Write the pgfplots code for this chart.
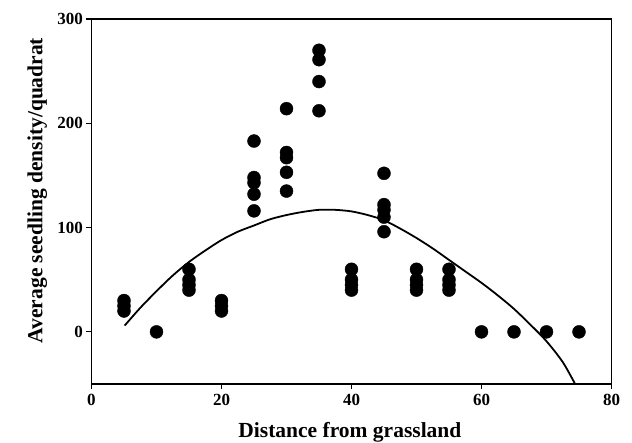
\documentclass[border=0pt]{standalone}
\usepackage{pgfplots}
\pgfplotsset{compat=1.18}
\usepackage{fontspec}
\setmainfont{Liberation Serif}
\begin{document}
\begin{tikzpicture}[x=1bp,y=1bp]
\useasboundingbox (-91.5bp,-59bp) rectangle (540.5bp,384bp);
\begin{axis}[
  at={(0,0)}, anchor=south west,
  scale only axis,
  width=520bp, height=365bp,
  xmin=0, xmax=80, ymin=-50, ymax=300,
  xtick={0,20,40,60,80}, ytick={0,100,200,300},
  axis line style={line width=1.8bp},
  tick style={line width=1.2bp, black},
  tick align=outside,
  major tick length=5bp,
  xtick pos=bottom, ytick pos=left,
  /pgf/number format/assume math mode=true,
  tick label style={font=\fontsize{17bp}{19bp}\selectfont\bfseries},
  xticklabel style={yshift=-2bp},
  xlabel={Distance from grassland},
  ylabel={Average seedling density/quadrat},
  every axis x label/.style={at={(axis description cs:0.497,0)}, anchor=base, yshift=-53bp, font=\fontsize{21.5bp}{24bp}\selectfont\bfseries},
  every axis y label/.style={at={(axis description cs:0,0.53)}, rotate=90, anchor=base, yshift=49bp, font=\fontsize{21.5bp}{24bp}\selectfont\bfseries},
  clip=false,
]
\addplot[only marks, mark=*, mark size=6.5bp, black] coordinates {
 (5,30) (5,25) (5,20)
 (10,0)
 (15,60) (15,50) (15,45) (15,40)
 (20,30) (20,25) (20,20)
 (25,183) (25,148) (25,143) (25,132) (25,116)
 (30,214) (30,172) (30,167) (30,153) (30,135)
 (35,270) (35,261) (35,240) (35,212)
 (40,60) (40,50) (40,45) (40,40)
 (45,152) (45,122) (45,117) (45,110) (45,96)
 (50,60) (50,50) (50,45) (50,40)
 (55,60) (55,50) (55,45) (55,40)
 (60,0) (65,0) (70,0) (75,0)
};
\addplot[smooth, line width=1.8bp, black] coordinates {
 (5.1,6) (7.5,23) (10,39) (12.5,54) (15,67) (17.5,78) (20,88) (22.5,96)
 (25,102) (27.5,108) (30,112) (32.5,115) (35,117) (37.5,117) (40,115.5)
 (42.5,112) (45,107) (47.5,99) (50,90) (52.5,80) (55,69) (57.5,58)
 (60,47) (62.5,35) (65,22) (67.5,7) (70,-9) (72.5,-29) (74.4,-50)
};
\end{axis}
\end{tikzpicture}
\end{document}
